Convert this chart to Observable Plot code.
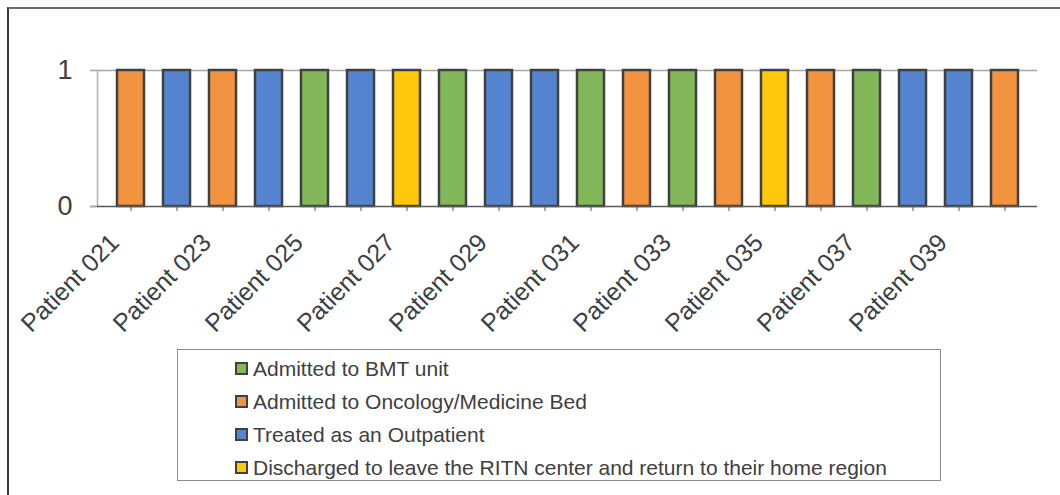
<!DOCTYPE html>
<html>
<head>
<meta charset="utf-8">
<script src="https://cdn.jsdelivr.net/npm/d3@7"></script>
<script src="https://cdn.jsdelivr.net/npm/@observablehq/plot@0.6"></script>
<style>
  html, body { margin: 0; padding: 0; background: #fff; }
  #wrap { position: relative; width: 1060px; height: 495px; overflow: hidden; font-family: "Liberation Sans", Arial, sans-serif; }
  #frame { position: absolute; left: 7px; top: 7px; width: 1100px; height: 600px; border-left: 2px solid #3a3a3a; border-top: 2px solid #6a6a6a; }
  #chart { position: absolute; left: 0; top: 0; }
  #legend { position: absolute; left: 177px; top: 349px; width: 764px; height: 132px; border: 1px solid #8c8c8c; box-sizing: border-box; padding: 2px 0 0 57px; background: #fff; }
  .item { display: flex; align-items: center; height: 33px; font-size: 21px; color: #404040; }
  .sw { width: 9px; height: 9px; border: 2px solid #404040; margin-right: 5px; flex: none; }
</style>
</head>
<body>
<div id="wrap">
  <div id="frame"></div>
  <div id="chart"></div>
  <div id="legend"></div>
</div>
<script>
// Patients in order and the outcome recorded for each
const patients = ["Patient 021","Patient 022","Patient 023","Patient 024","Patient 025",
  "Patient 026","Patient 027","Patient 028","Patient 029","Patient 030",
  "Patient 031","Patient 032","Patient 033","Patient 034","Patient 035",
  "Patient 036","Patient 037","Patient 038","Patient 039","Patient 040"];
const outcomes = ["Oncology","Outpatient","Oncology","Outpatient","BMT",
  "Outpatient","Discharged","BMT","Outpatient","Outpatient",
  "BMT","Oncology","BMT","Oncology","Discharged",
  "Oncology","BMT","Outpatient","Outpatient","Oncology"];
const values = [1,1,1,1,1,1,1,1,1,1,1,1,1,1,1,1,1,1,1,1];

// Outcome categories, their legend text and fill colours
const categories = ["BMT","Oncology","Outpatient","Discharged"];
const categoryLabels = ["Admitted to BMT unit","Admitted to Oncology/Medicine Bed",
  "Treated as an Outpatient","Discharged to leave the RITN center and return to their home region"];
const categoryColors = ["#82b85a","#f29340","#5584d0","#ffc80a"];

const yTicks = [0, 1];
const xTickLabels = patients.filter((d, i) => i % 2 === 0);

const data = patients.map((p, i) => ({patient: p, outcome: outcomes[i], value: values[i]}));

const chart = Plot.plot({
  width: 1060,
  height: 345,
  marginLeft: 97,
  marginRight: 23,
  marginTop: 70,
  marginBottom: 139,
  style: {fontFamily: "Liberation Sans, Arial, sans-serif", color: "#404040", background: "transparent"},
  x: {domain: patients, padding: 0.42, align: 0.5},
  y: {domain: [0, 1]},
  color: {domain: categories, range: categoryColors},
  marks: [
    Plot.ruleY([1], {stroke: "#a6a6a6", strokeWidth: 1.5, insetLeft: -7}),
    Plot.frame({anchor: "left", stroke: "#b0b0b0", strokeWidth: 1.5}),
    Plot.barY(data, {x: "patient", y: "value", fill: "outcome", stroke: "#404040", strokeWidth: 2.5}),
    Plot.ruleY([0], {stroke: "#595959", strokeWidth: 1.5, insetLeft: -7}),
    Plot.axisY({ticks: yTicks, tickSize: 7, tickPadding: 18, fontSize: 27, tickFormat: d => d,
      stroke: "#a6a6a6", label: null, color: "#404040"}),
    // tick marks under every bar
    Plot.axisX({ticks: patients, tickSize: 5, tickFormat: () => "", label: null, stroke: "#595959"}),
    // labels on every other patient
    Plot.axisX({ticks: xTickLabels, tickSize: 0, tickPadding: 32, dx: -16, fontSize: 25, tickRotate: -45,
      label: null, color: "#404040"})
  ]
});
document.getElementById("chart").appendChild(chart);

// Legend below the chart
const legend = d3.select("#legend");
categories.forEach((c, i) => {
  const row = legend.append("div").attr("class", "item");
  row.append("div").attr("class", "sw").style("background", categoryColors[i]);
  row.append("span").text(categoryLabels[i]);
});
</script>
</body>
</html>
